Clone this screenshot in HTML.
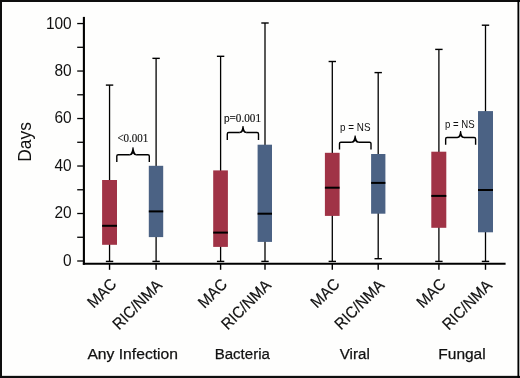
<!DOCTYPE html>
<html><head><meta charset="utf-8"><title>Days to infection</title>
<style>
html,body{margin:0;padding:0;background:#fff;}
svg{display:block;will-change:transform;}
text{font-family:"Liberation Sans",sans-serif;fill:#111;}
</style></head>
<body>
<svg width="520" height="378" viewBox="0 0 520 378">
<rect x="0" y="0" width="520" height="378" fill="#fefefd"/>
<rect x="0" y="0" width="520" height="2" fill="#0e0e0e"/>
<rect x="0" y="375.85" width="520" height="2.15" fill="#0e0e0e"/>
<rect x="0" y="0" width="2" height="378" fill="#0e0e0e"/>
<rect x="517.45" y="0" width="1.85" height="378" fill="#000"/>
<line x1="83.9" y1="16.9" x2="83.9" y2="264.75" stroke="#000" stroke-width="2.1"/>
<line x1="82.85" y1="263.7" x2="505.6" y2="263.7" stroke="#000" stroke-width="2.1"/>
<line x1="77.2" y1="23.55" x2="83.5" y2="23.55" stroke="#000" stroke-width="1.3"/>
<line x1="77.2" y1="47.30" x2="83.5" y2="47.30" stroke="#000" stroke-width="1.3"/>
<line x1="77.2" y1="71.04" x2="83.5" y2="71.04" stroke="#000" stroke-width="1.3"/>
<line x1="77.2" y1="94.78" x2="83.5" y2="94.78" stroke="#000" stroke-width="1.3"/>
<line x1="77.2" y1="118.53" x2="83.5" y2="118.53" stroke="#000" stroke-width="1.3"/>
<line x1="77.2" y1="142.28" x2="83.5" y2="142.28" stroke="#000" stroke-width="1.3"/>
<line x1="77.2" y1="166.02" x2="83.5" y2="166.02" stroke="#000" stroke-width="1.3"/>
<line x1="77.2" y1="189.77" x2="83.5" y2="189.77" stroke="#000" stroke-width="1.3"/>
<line x1="77.2" y1="213.51" x2="83.5" y2="213.51" stroke="#000" stroke-width="1.3"/>
<line x1="77.2" y1="237.26" x2="83.5" y2="237.26" stroke="#000" stroke-width="1.3"/>
<line x1="77.2" y1="261.00" x2="83.5" y2="261.00" stroke="#000" stroke-width="1.3"/>
<line x1="109.55" y1="85.1" x2="109.55" y2="261.4" stroke="#000" stroke-width="1.3"/>
<line x1="105.85" y1="85.1" x2="113.25" y2="85.1" stroke="#000" stroke-width="1.4"/>
<line x1="105.85" y1="261.4" x2="113.25" y2="261.4" stroke="#000" stroke-width="1.4"/>
<line x1="109.55" y1="264" x2="109.55" y2="269.8" stroke="#000" stroke-width="1.4"/>
<rect x="102.1" y="180.0" width="14.90" height="64.80" fill="#a03346"/>
<line x1="102.1" y1="225.80" x2="117.0" y2="225.80" stroke="#000" stroke-width="2"/>
<line x1="156.1" y1="58.35" x2="156.1" y2="261.4" stroke="#000" stroke-width="1.3"/>
<line x1="152.4" y1="58.35" x2="159.79999999999998" y2="58.35" stroke="#000" stroke-width="1.4"/>
<line x1="152.4" y1="261.4" x2="159.79999999999998" y2="261.4" stroke="#000" stroke-width="1.4"/>
<line x1="156.1" y1="264" x2="156.1" y2="269.8" stroke="#000" stroke-width="1.4"/>
<rect x="148.8" y="165.8" width="14.40" height="71.30" fill="#4b6284"/>
<line x1="148.8" y1="211.40" x2="163.2" y2="211.40" stroke="#000" stroke-width="2"/>
<line x1="220.6" y1="56.3" x2="220.6" y2="261.4" stroke="#000" stroke-width="1.3"/>
<line x1="216.9" y1="56.3" x2="224.29999999999998" y2="56.3" stroke="#000" stroke-width="1.4"/>
<line x1="216.9" y1="261.4" x2="224.29999999999998" y2="261.4" stroke="#000" stroke-width="1.4"/>
<line x1="220.6" y1="264" x2="220.6" y2="269.8" stroke="#000" stroke-width="1.4"/>
<rect x="213.2" y="170.4" width="14.70" height="76.50" fill="#a03346"/>
<line x1="213.2" y1="232.60" x2="227.9" y2="232.60" stroke="#000" stroke-width="2"/>
<line x1="265.0" y1="23.0" x2="265.0" y2="261.4" stroke="#000" stroke-width="1.3"/>
<line x1="261.3" y1="23.0" x2="268.7" y2="23.0" stroke="#000" stroke-width="1.4"/>
<line x1="261.3" y1="261.4" x2="268.7" y2="261.4" stroke="#000" stroke-width="1.4"/>
<line x1="265.0" y1="264" x2="265.0" y2="269.8" stroke="#000" stroke-width="1.4"/>
<rect x="257.6" y="144.7" width="14.40" height="97.20" fill="#4b6284"/>
<line x1="257.6" y1="213.70" x2="272.0" y2="213.70" stroke="#000" stroke-width="2"/>
<line x1="332.3" y1="61.5" x2="332.3" y2="261.4" stroke="#000" stroke-width="1.3"/>
<line x1="328.6" y1="61.5" x2="336.0" y2="61.5" stroke="#000" stroke-width="1.4"/>
<line x1="328.6" y1="261.4" x2="336.0" y2="261.4" stroke="#000" stroke-width="1.4"/>
<line x1="332.3" y1="264" x2="332.3" y2="269.8" stroke="#000" stroke-width="1.4"/>
<rect x="324.9" y="152.8" width="14.70" height="63.10" fill="#a03346"/>
<line x1="324.9" y1="187.70" x2="339.6" y2="187.70" stroke="#000" stroke-width="2"/>
<line x1="378.2" y1="72.6" x2="378.2" y2="258.7" stroke="#000" stroke-width="1.3"/>
<line x1="374.5" y1="72.6" x2="381.9" y2="72.6" stroke="#000" stroke-width="1.4"/>
<line x1="374.5" y1="258.7" x2="381.9" y2="258.7" stroke="#000" stroke-width="1.4"/>
<line x1="378.2" y1="264" x2="378.2" y2="269.8" stroke="#000" stroke-width="1.4"/>
<rect x="371.1" y="154.0" width="14.30" height="59.70" fill="#4b6284"/>
<line x1="371.1" y1="182.90" x2="385.4" y2="182.90" stroke="#000" stroke-width="2"/>
<line x1="438.9" y1="49.4" x2="438.9" y2="261.4" stroke="#000" stroke-width="1.3"/>
<line x1="435.2" y1="49.4" x2="442.59999999999997" y2="49.4" stroke="#000" stroke-width="1.4"/>
<line x1="435.2" y1="261.4" x2="442.59999999999997" y2="261.4" stroke="#000" stroke-width="1.4"/>
<line x1="438.9" y1="264" x2="438.9" y2="269.8" stroke="#000" stroke-width="1.4"/>
<rect x="431.3" y="151.7" width="15.00" height="76.10" fill="#a03346"/>
<line x1="431.3" y1="195.90" x2="446.3" y2="195.90" stroke="#000" stroke-width="2"/>
<line x1="485.5" y1="25.2" x2="485.5" y2="261.4" stroke="#000" stroke-width="1.3"/>
<line x1="481.8" y1="25.2" x2="489.2" y2="25.2" stroke="#000" stroke-width="1.4"/>
<line x1="481.8" y1="261.4" x2="489.2" y2="261.4" stroke="#000" stroke-width="1.4"/>
<line x1="485.5" y1="264" x2="485.5" y2="269.8" stroke="#000" stroke-width="1.4"/>
<rect x="478.0" y="111.1" width="15.00" height="121.20" fill="#4b6284"/>
<line x1="478.0" y1="190.00" x2="493.0" y2="190.00" stroke="#000" stroke-width="2"/>
<text x="71.7" y="28.50" font-size="16.4" text-anchor="end" textLength="25.8" lengthAdjust="spacingAndGlyphs">100</text>
<text x="71.7" y="75.99" font-size="16.4" text-anchor="end" textLength="17.2" lengthAdjust="spacingAndGlyphs">80</text>
<text x="71.7" y="123.48" font-size="16.4" text-anchor="end" textLength="17.2" lengthAdjust="spacingAndGlyphs">60</text>
<text x="71.7" y="170.97" font-size="16.4" text-anchor="end" textLength="17.2" lengthAdjust="spacingAndGlyphs">40</text>
<text x="71.7" y="218.46" font-size="16.4" text-anchor="end" textLength="17.2" lengthAdjust="spacingAndGlyphs">20</text>
<text x="71.7" y="265.95" font-size="16.4" text-anchor="end" textLength="8.6" lengthAdjust="spacingAndGlyphs">0</text>
<text transform="translate(30.9,161.7) rotate(-90)" font-size="18.3" textLength="39.6" lengthAdjust="spacingAndGlyphs">Days</text>
<path d="M116.8,162.0 V156.1 Q116.8,154.7 118.2,154.7 H129.6 M136.4,154.7 H147.9 Q149.3,154.7 149.3,156.1 V162.0" fill="none" stroke="#000" stroke-width="1.4"/>
<path d="M129.4,154.0 Q131.7,154.0 132.5,147.2 L133.5,147.2 Q134.3,154.0 136.6,154.0 L136.6,155.39999999999998 Q134.0,155.39999999999998 133.0,153.5 Q132.0,155.39999999999998 129.4,155.39999999999998 Z" fill="#000"/>
<path d="M227.3,140.0 V133.95000000000002 Q227.3,132.55 228.70000000000002,132.55 H239.6 M246.4,132.55 H257.1 Q258.5,132.55 258.5,133.95000000000002 V140.0" fill="none" stroke="#000" stroke-width="1.4"/>
<path d="M239.4,131.85000000000002 Q241.7,131.85000000000002 242.5,126.0 L243.5,126.0 Q244.3,131.85000000000002 246.6,131.85000000000002 L246.6,133.25 Q244.0,133.25 243.0,131.35000000000002 Q242.0,133.25 239.4,133.25 Z" fill="#000"/>
<path d="M339.5,149.4 V143.6 Q339.5,142.2 340.9,142.2 H351.75 M358.54999999999995,142.2 H369.6 Q371.0,142.2 371.0,143.6 V149.4" fill="none" stroke="#000" stroke-width="1.4"/>
<path d="M351.54999999999995,141.5 Q353.84999999999997,141.5 354.65,135.6 L355.65,135.6 Q356.45,141.5 358.75,141.5 L358.75,142.89999999999998 Q356.15,142.89999999999998 355.15,141.0 Q354.15,142.89999999999998 351.54999999999995,142.89999999999998 Z" fill="#000"/>
<path d="M445.65,144.8 V138.9 Q445.65,137.5 447.04999999999995,137.5 H457.20000000000005 M464.0,137.5 H474.20000000000005 Q475.6,137.5 475.6,138.9 V144.8" fill="none" stroke="#000" stroke-width="1.4"/>
<path d="M457.0,136.8 Q459.3,136.8 460.1,130.9 L461.1,130.9 Q461.90000000000003,136.8 464.20000000000005,136.8 L464.20000000000005,138.2 Q461.6,138.2 460.6,136.3 Q459.6,138.2 457.0,138.2 Z" fill="#000"/>
<text x="117.4" y="142.2" font-size="11.6" stroke="#111" stroke-width="0.15" style="font-family:&quot;Liberation Serif&quot;,serif" textLength="30.9" lengthAdjust="spacingAndGlyphs">&lt;0.001</text>
<text x="224.0" y="122.05" font-size="11.6" stroke="#111" stroke-width="0.15" style="font-family:&quot;Liberation Serif&quot;,serif" textLength="37.0" lengthAdjust="spacingAndGlyphs"><tspan style="font-family:&quot;Liberation Sans&quot;,sans-serif" font-size="10.4">p</tspan>=0.001</text>
<text x="340.1" y="130.6" font-size="10.4" textLength="30.4" lengthAdjust="spacingAndGlyphs">p = NS</text>
<text x="445.1" y="127.6" font-size="10.4" textLength="29.6" lengthAdjust="spacingAndGlyphs">p = NS</text>
<text transform="translate(117.55,285.1) rotate(-45)" font-size="16" stroke="#111" stroke-width="0.2" text-anchor="end" textLength="33.5" lengthAdjust="spacingAndGlyphs">MAC</text>
<text transform="translate(163.10,286.3) rotate(-45)" font-size="16" stroke="#111" stroke-width="0.2" text-anchor="end" textLength="62.5" lengthAdjust="spacingAndGlyphs">RIC/NMA</text>
<text transform="translate(228.10,285.3) rotate(-45)" font-size="16" stroke="#111" stroke-width="0.2" text-anchor="end" textLength="33.5" lengthAdjust="spacingAndGlyphs">MAC</text>
<text transform="translate(272.00,286.3) rotate(-45)" font-size="16" stroke="#111" stroke-width="0.2" text-anchor="end" textLength="62.5" lengthAdjust="spacingAndGlyphs">RIC/NMA</text>
<text transform="translate(340.80,285.1) rotate(-45)" font-size="16" stroke="#111" stroke-width="0.2" text-anchor="end" textLength="33.5" lengthAdjust="spacingAndGlyphs">MAC</text>
<text transform="translate(385.20,286.3) rotate(-45)" font-size="16" stroke="#111" stroke-width="0.2" text-anchor="end" textLength="62.5" lengthAdjust="spacingAndGlyphs">RIC/NMA</text>
<text transform="translate(446.70,285.1) rotate(-45)" font-size="16" stroke="#111" stroke-width="0.2" text-anchor="end" textLength="33.5" lengthAdjust="spacingAndGlyphs">MAC</text>
<text transform="translate(492.90,286.6) rotate(-45)" font-size="16" stroke="#111" stroke-width="0.2" text-anchor="end" textLength="62.5" lengthAdjust="spacingAndGlyphs">RIC/NMA</text>
<text x="87.4" y="359.45" font-size="15.3" stroke="#111" stroke-width="0.25" textLength="90.6" lengthAdjust="spacingAndGlyphs">Any Infection</text>
<text x="214.7" y="359.45" font-size="15.3" stroke="#111" stroke-width="0.25" textLength="55.2" lengthAdjust="spacingAndGlyphs">Bacteria</text>
<text x="339.8" y="359.45" font-size="15.3" stroke="#111" stroke-width="0.25" textLength="30.0" lengthAdjust="spacingAndGlyphs">Viral</text>
<text x="438.3" y="359.45" font-size="15.3" stroke="#111" stroke-width="0.25" textLength="47.4" lengthAdjust="spacingAndGlyphs">Fungal</text>
</svg>
</body></html>
